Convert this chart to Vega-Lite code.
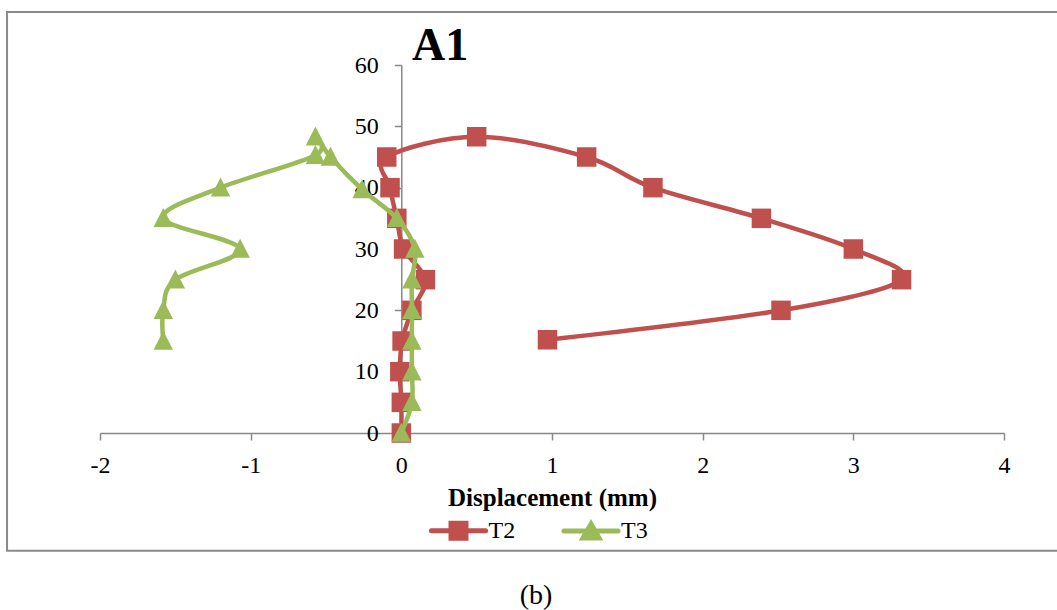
{
  "$schema": "https://vega.github.io/schema/vega-lite/v6.json",
  "width": 904,
  "height": 368,
  "autosize": {"type": "none"},
  "padding": {"left": 100, "top": 65, "right": 53, "bottom": 177},
  "background": "white",
  "config": {"view": {"stroke": null}, "axis": {"grid": false}},
  "data": {"values": [
    {"series": "T2", "i": 0, "x": 0, "y": 0},
    {"series": "T2", "i": 1, "x": 0, "y": 5},
    {"series": "T2", "i": 2, "x": -0.01, "y": 10},
    {"series": "T2", "i": 3, "x": 0.005, "y": 15},
    {"series": "T2", "i": 4, "x": 0.07, "y": 20},
    {"series": "T2", "i": 5, "x": 0.16, "y": 25},
    {"series": "T2", "i": 6, "x": 0.015, "y": 30},
    {"series": "T2", "i": 7, "x": -0.03, "y": 35},
    {"series": "T2", "i": 8, "x": -0.075, "y": 40},
    {"series": "T2", "i": 9, "x": -0.097, "y": 45},
    {"series": "T2", "i": 10, "x": 0.5, "y": 48.3},
    {"series": "T2", "i": 11, "x": 1.23, "y": 45},
    {"series": "T2", "i": 12, "x": 1.67, "y": 40},
    {"series": "T2", "i": 13, "x": 2.39, "y": 35},
    {"series": "T2", "i": 14, "x": 3.0, "y": 30},
    {"series": "T2", "i": 15, "x": 3.32, "y": 25},
    {"series": "T2", "i": 16, "x": 2.52, "y": 20},
    {"series": "T2", "i": 17, "x": 0.97, "y": 15.2},
    {"series": "T3", "i": 0, "x": 0, "y": 0},
    {"series": "T3", "i": 1, "x": 0.07, "y": 5},
    {"series": "T3", "i": 2, "x": 0.07, "y": 10},
    {"series": "T3", "i": 3, "x": 0.07, "y": 15},
    {"series": "T3", "i": 4, "x": 0.07, "y": 20},
    {"series": "T3", "i": 5, "x": 0.07, "y": 25},
    {"series": "T3", "i": 6, "x": 0.09, "y": 30},
    {"series": "T3", "i": 7, "x": -0.03, "y": 35},
    {"series": "T3", "i": 8, "x": -0.26, "y": 39.7},
    {"series": "T3", "i": 9, "x": -0.47, "y": 45},
    {"series": "T3", "i": 10, "x": -0.57, "y": 48.3},
    {"series": "T3", "i": 11, "x": -0.57, "y": 45.3},
    {"series": "T3", "i": 12, "x": -1.2, "y": 40},
    {"series": "T3", "i": 13, "x": -1.58, "y": 35},
    {"series": "T3", "i": 14, "x": -1.07, "y": 30},
    {"series": "T3", "i": 15, "x": -1.5, "y": 25},
    {"series": "T3", "i": 16, "x": -1.58, "y": 20},
    {"series": "T3", "i": 17, "x": -1.58, "y": 15}
  ]},
  "layer": [
    {
      "data": {"values": [{}]},
      "mark": {"type": "rect", "fill": null, "stroke": "#8a8a8a", "strokeWidth": 2},
      "encoding": {
        "x": {"datum": -2.617, "type": "quantitative"},
        "x2": {"datum": 4.4},
        "y": {"datum": -19.18, "type": "quantitative"},
        "y2": {"datum": 68.64}
      }
    },
    {
      "transform": [{"filter": "datum.series === 'T2'"}],
      "mark": {"type": "line", "interpolate": "cardinal", "tension": 0, "strokeWidth": 4.5, "strokeCap": "round", "strokeJoin": "round"},
      "encoding": {
        "x": {"field": "x", "type": "quantitative",
          "scale": {"domain": [-2, 4], "nice": false, "zero": false},
          "axis": {"values": [-2, -1, 0, 1, 2, 3, 4], "labelExpr": "'' + datum.value", "title": "Displacement (mm)", "domainColor": "#888888", "domainWidth": 1.5, "tickColor": "#888888", "tickWidth": 1.5, "tickSize": 7, "labelFont": "Liberation Serif", "labelFontSize": 24, "labelColor": "black", "labelPadding": 13, "labelFlush": false, "titleFont": "Liberation Serif", "titleFontSize": 25, "titleFontWeight": "bold", "titleColor": "black", "titleY": 72, "titleBaseline": "alphabetic"}},
        "y": {"field": "y", "type": "quantitative",
          "scale": {"domain": [0, 60], "nice": false, "zero": false},
          "axis": {"values": [0, 10, 20, 30, 40, 50, 60], "labelExpr": "'' + datum.value", "title": null, "offset": -301.3, "domainColor": "#888888", "domainWidth": 1.5, "tickColor": "#888888", "tickWidth": 1.5, "tickSize": 7, "labelFont": "Liberation Serif", "labelFontSize": 24, "labelColor": "black", "labelPadding": 16, "labelFlush": false}},
        "order": {"field": "i", "type": "quantitative"},
        "color": {"field": "series", "type": "nominal",
          "scale": {"domain": ["T2", "T3"], "range": ["#C0504D", "#9BBB59"]},
          "legend": {"orient": "none", "legendX": 327.5, "legendY": 434.5, "direction": "horizontal", "title": null, "symbolSize": 3249, "symbolStrokeWidth": 5, "labelFont": "Liberation Serif", "labelFontSize": 24, "labelColor": "black", "labelOffset": -1, "columnPadding": 37.5, "padding": 0,
            "encode": {"symbols": {"update": {
              "shape": {"signal": "datum.value === 'T2' ? 'M-0.95,0H0.95M-0.263,-0.263H0.263V0.263H-0.263Z' : 'M-0.95,0H0.95M0,-0.246L0.28,0.246H-0.28Z'"},
              "fill": {"signal": "datum.value === 'T2' ? '#C0504D' : '#9BBB59'"},
              "stroke": {"signal": "datum.value === 'T2' ? '#C0504D' : '#9BBB59'"},
              "strokeWidth": {"value": 5},
              "strokeCap": {"value": "round"},
              "strokeJoin": {"value": "miter"},
              "opacity": {"value": 1},
              "fillOpacity": {"value": 1},
              "strokeOpacity": {"value": 1}
            }}}}}
      }
    },
    {
      "transform": [{"filter": "datum.series === 'T2'"}],
      "mark": {"type": "point", "shape": "square", "filled": true, "opacity": 1, "size": 380, "strokeWidth": 0},
      "encoding": {
        "x": {"field": "x", "type": "quantitative"},
        "y": {"field": "y", "type": "quantitative"},
        "color": {"field": "series", "type": "nominal"}
      }
    },
    {
      "transform": [{"filter": "datum.series === 'T3'"}],
      "mark": {"type": "line", "interpolate": "cardinal", "tension": 0, "strokeWidth": 4.5, "strokeCap": "round", "strokeJoin": "round"},
      "encoding": {
        "x": {"field": "x", "type": "quantitative"},
        "y": {"field": "y", "type": "quantitative"},
        "order": {"field": "i", "type": "quantitative"},
        "color": {"field": "series", "type": "nominal"}
      }
    },
    {
      "transform": [{"filter": "datum.series === 'T3'"}],
      "mark": {"type": "point", "shape": "M0,-1.05L1,0.9L-1,0.9Z", "filled": true, "opacity": 1, "size": 380, "strokeWidth": 0},
      "encoding": {
        "x": {"field": "x", "type": "quantitative"},
        "y": {"field": "y", "type": "quantitative"},
        "color": {"field": "series", "type": "nominal"}
      }
    },
    {
      "data": {"values": [{}]},
      "mark": {"type": "text", "text": "A1", "font": "Liberation Serif", "fontSize": 46, "fontWeight": "bold", "baseline": "alphabetic", "align": "left", "color": "black"},
      "encoding": {
        "x": {"datum": 0.071, "type": "quantitative"},
        "y": {"datum": 60.82, "type": "quantitative"}
      }
    },
    {
      "data": {"values": [{}]},
      "mark": {"type": "text", "text": "(b)", "font": "Liberation Serif", "fontSize": 28, "baseline": "alphabetic", "align": "center", "color": "black"},
      "encoding": {
        "x": {"datum": 0.894, "type": "quantitative"},
        "y": {"datum": -27.8, "type": "quantitative"}
      }
    }
  ]
}
